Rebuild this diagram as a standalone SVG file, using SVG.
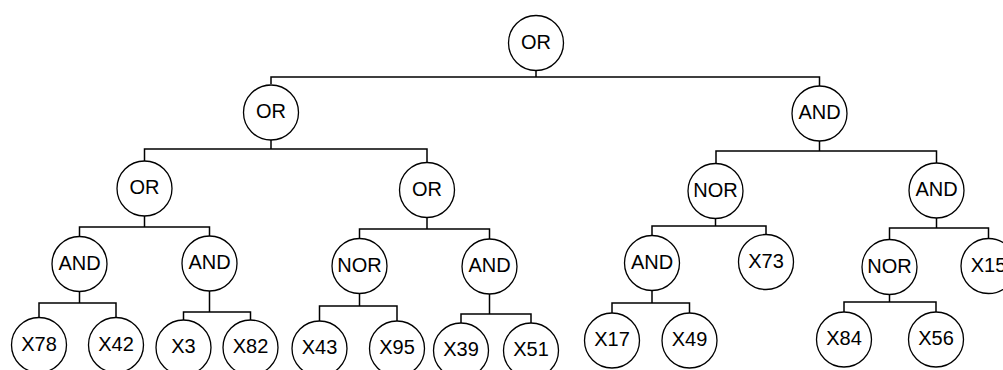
<svg xmlns="http://www.w3.org/2000/svg" width="1003" height="370" viewBox="0 0 1003 370">
<style>
.n circle{fill:#fff;stroke:#000;stroke-width:1.3}
.n text{font-family:"Liberation Sans",Arial,sans-serif;font-size:20px;fill:#000;text-anchor:middle}
#connectors path{fill:none;stroke:#000;stroke-width:1.5}
</style>
<rect width="1003" height="370" fill="#fff"/>
<g id="connectors">
<path d="M536 70.5V77M271 84V77H819.5V86"/>
<path d="M271 140V149M144.5 161V149H427V162"/>
<path d="M819.5 141V151M716 164V151H936.5V163"/>
<path d="M144.5 216V227M79.5 236.5V227H209.5V236"/>
<path d="M427 217.5V229M359.5 238.5V229H489.5V239"/>
<path d="M715.5 218.5V226M652 235.5V226H766V234.5"/>
<path d="M936.5 218V228M889.5 239.5V228H988.5V238.5"/>
<path d="M79.5 291.5V303M39 317.5V303H116V317.5"/>
<path d="M209.5 291V312M183.5 320V312H250.5V320"/>
<path d="M359.5 293.5V306M319.5 321V306H397V321"/>
<path d="M489.5 294V314M461 323V314H531V323"/>
<path d="M652 290.5V303M612 313V303H689.5V313"/>
<path d="M889.5 294.5V302M844 312V302H936V312"/>
</g>
<g id="n_or0" class="n"><circle cx="536" cy="43" r="27.5"/><text x="536" y="48.5">OR</text></g>
<g id="n_or1" class="n"><circle cx="271" cy="112.5" r="27.5"/><text x="271" y="118">OR</text></g>
<g id="n_and1" class="n"><circle cx="819.5" cy="113.5" r="27.5"/><text x="819.5" y="119">AND</text></g>
<g id="n_or2l" class="n"><circle cx="144.5" cy="188.5" r="27.5"/><text x="144.5" y="194">OR</text></g>
<g id="n_or2r" class="n"><circle cx="427" cy="190" r="27.5"/><text x="427" y="195.5">OR</text></g>
<g id="n_nor2" class="n"><circle cx="715.5" cy="191" r="27.5"/><text x="715.5" y="196.5">NOR</text></g>
<g id="n_and2" class="n"><circle cx="936.5" cy="190.5" r="27.5"/><text x="936.5" y="196">AND</text></g>
<g id="n_and3a" class="n"><circle cx="79.5" cy="264" r="27.5"/><text x="79.5" y="269.5">AND</text></g>
<g id="n_and3b" class="n"><circle cx="209.5" cy="263.5" r="27.5"/><text x="209.5" y="269">AND</text></g>
<g id="n_nor3a" class="n"><circle cx="359.5" cy="266" r="27.5"/><text x="359.5" y="271.5">NOR</text></g>
<g id="n_and3c" class="n"><circle cx="489.5" cy="266.5" r="27.5"/><text x="489.5" y="272">AND</text></g>
<g id="n_and3d" class="n"><circle cx="652" cy="263" r="27.5"/><text x="652" y="268.5">AND</text></g>
<g id="n_x73" class="n"><circle cx="766" cy="262" r="27.5"/><text x="766" y="267.5">X73</text></g>
<g id="n_nor3b" class="n"><circle cx="889.5" cy="267" r="27.5"/><text x="889.5" y="272.5">NOR</text></g>
<g id="n_x15" class="n"><circle cx="988.5" cy="266" r="27.5"/><text x="988.5" y="271.5">X15</text></g>
<g id="n_x78" class="n"><circle cx="39" cy="345" r="27.5"/><text x="39" y="350.5">X78</text></g>
<g id="n_x42" class="n"><circle cx="116" cy="345" r="27.5"/><text x="116" y="350.5">X42</text></g>
<g id="n_x3" class="n"><circle cx="183.5" cy="347.5" r="27.5"/><text x="183.5" y="353">X3</text></g>
<g id="n_x82" class="n"><circle cx="250.5" cy="347.5" r="27.5"/><text x="250.5" y="353">X82</text></g>
<g id="n_x43" class="n"><circle cx="319.5" cy="348.5" r="27.5"/><text x="319.5" y="354">X43</text></g>
<g id="n_x95" class="n"><circle cx="397" cy="348.5" r="27.5"/><text x="397" y="354">X95</text></g>
<g id="n_x39" class="n"><circle cx="461" cy="350.5" r="27.5"/><text x="461" y="356">X39</text></g>
<g id="n_x51" class="n"><circle cx="531" cy="350.5" r="27.5"/><text x="531" y="356">X51</text></g>
<g id="n_x17" class="n"><circle cx="612" cy="340.5" r="27.5"/><text x="612" y="346">X17</text></g>
<g id="n_x49" class="n"><circle cx="689.5" cy="340.5" r="27.5"/><text x="689.5" y="346">X49</text></g>
<g id="n_x84" class="n"><circle cx="844" cy="339.5" r="27.5"/><text x="844" y="345">X84</text></g>
<g id="n_x56" class="n"><circle cx="936" cy="339.5" r="27.5"/><text x="936" y="345">X56</text></g>
</svg>
